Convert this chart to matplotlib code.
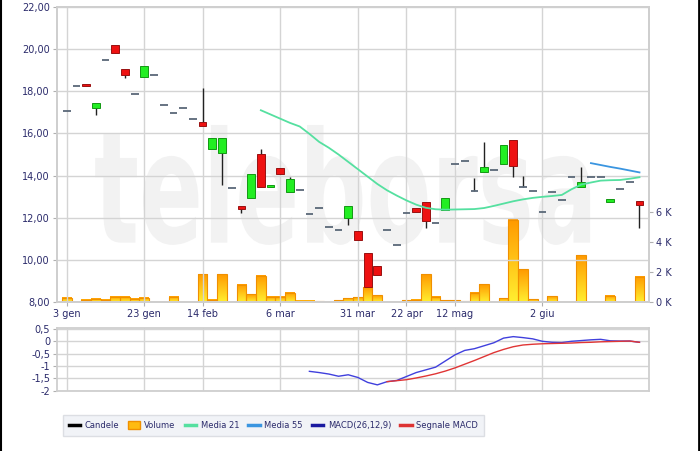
import numpy as np
import matplotlib
matplotlib.use('Agg')
import matplotlib.pyplot as plt
from matplotlib.colors import LinearSegmentedColormap
from matplotlib.lines import Line2D
from matplotlib.patches import Patch, PathPatch
from matplotlib.textpath import TextPath
from matplotlib.font_manager import FontProperties
from matplotlib.transforms import Affine2D

# dates shown on the axis (index of the trading session)
date_labels = ['3 gen', '23 gen', '14 feb', '6 mar', '31 mar', '22 apr', '12 mag', '2 giu']
date_pos = [0, 8, 14, 22, 30, 35, 40, 49]

# OHLC
opens = [17.08, 18.25, 18.35, 17.22, 19.49, 20.19, 19.08, 17.89, 18.68, 18.78,
         17.37, 16.97, 17.22, 16.70, 16.52, 15.27, 15.06, 13.41, 12.57, 12.94,
         15.00, 13.48, 14.35, 13.21, 13.33, 12.19, 12.46, 11.57, 11.41, 11.99,
         11.38, 10.32, 9.71, 11.43, 10.71, 12.24, 12.44, 12.76, 11.75, 12.38,
         14.56, 14.67, 13.29, 14.16, 14.27, 14.56, 15.70, 13.48, 13.29, 12.29,
         13.21, 12.86, 13.95, 13.46, 13.95, 13.95, 12.76, 13.38, 13.68, 12.81]
highs = [17.08, 18.25, 18.35, 17.46, 19.49, 20.19, 19.08, 17.89, 19.22, 18.78,
         17.37, 16.97, 17.22, 16.70, 18.16, 15.78, 15.79, 13.41, 12.57, 14.08,
         15.24, 13.57, 14.35, 13.95, 13.33, 12.19, 12.46, 11.57, 11.41, 12.57,
         11.38, 10.32, 9.71, 11.43, 10.71, 12.24, 12.44, 12.76, 11.75, 12.94,
         14.56, 14.67, 13.87, 15.59, 14.27, 15.43, 15.70, 14.00, 13.29, 12.29,
         13.21, 12.86, 13.95, 14.43, 13.95, 13.95, 12.89, 13.38, 13.68, 12.81]
lows = [17.08, 18.25, 18.24, 16.86, 19.49, 19.81, 18.65, 17.89, 18.68, 18.78,
        17.37, 16.97, 17.22, 16.70, 16.37, 15.27, 13.56, 13.41, 12.22, 12.94,
        13.48, 13.48, 14.08, 13.21, 13.33, 12.19, 12.46, 11.57, 11.41, 11.65,
        10.95, 8.73, 9.29, 11.43, 10.71, 12.24, 12.29, 11.51, 11.75, 12.38,
        14.56, 14.67, 13.29, 14.16, 14.27, 14.56, 13.95, 13.48, 13.29, 12.29,
        13.21, 12.86, 13.95, 13.46, 13.95, 13.95, 12.76, 13.38, 13.68, 11.51]
closes = [17.08, 18.25, 18.24, 17.46, 19.49, 19.81, 18.78, 17.89, 19.22, 18.78,
          17.37, 16.97, 17.22, 16.70, 16.37, 15.78, 15.79, 13.41, 12.43, 14.08,
          13.48, 13.57, 14.08, 13.84, 13.33, 12.19, 12.46, 11.57, 11.41, 12.57,
          10.95, 8.73, 9.29, 11.43, 10.71, 12.24, 12.29, 11.86, 11.75, 12.94,
          14.56, 14.67, 13.29, 14.40, 14.27, 15.43, 14.45, 13.48, 13.29, 12.29,
          13.21, 12.86, 13.95, 13.68, 13.95, 13.95, 12.89, 13.38, 13.68, 12.62]
# volume in thousands
volume = [0.29, 0.03, 0.16, 0.22, 0.16, 0.36, 0.36, 0.20, 0.29, 0.03,
          0.03, 0.36, 0.03, 0.03, 1.85, 0.16, 1.85, 0.03, 1.15, 0.53,
          1.73, 0.36, 0.36, 0.62, 0.09, 0.09, 0.05, 0.03, 0.10, 0.25,
          0.30, 0.98, 0.44, 0.03, 0.03, 0.10, 0.16, 1.85, 0.36, 0.10,
          0.10, 0.05, 0.60, 1.18, 0.03, 0.24, 5.45, 2.18, 0.17, 0.03,
          0.38, 0.03, 0.03, 3.09, 0.03, 0.03, 0.42, 0.03, 0.03, 1.67]

ma21_start = 20
ma21 = [17.10, 16.90, 16.70, 16.50, 16.33, 15.98, 15.60, 15.32, 15.00, 14.65,
        14.30, 13.95, 13.60, 13.30, 13.05, 12.82, 12.62, 12.47, 12.40, 12.38,
        12.39, 12.40, 12.41, 12.46, 12.56, 12.67, 12.78, 12.87, 12.94, 12.99,
        13.03, 13.08, 13.35, 13.57, 13.67, 13.76, 13.78, 13.79, 13.85, 13.92]
ma55_start = 54
ma55 = [14.59, 14.50, 14.41, 14.33, 14.24, 14.15]

macd_start = 25
macd = [-1.22, -1.27, -1.33, -1.42, -1.36, -1.47, -1.67, -1.77, -1.64, -1.59,
        -1.43, -1.27, -1.16, -1.05, -0.80, -0.55, -0.37, -0.30, -0.18, -0.06,
        0.13, 0.19, 0.15, 0.10, 0.00, -0.04, -0.05, 0.00, 0.03, 0.06,
        0.08, 0.02, 0.01, 0.01, -0.04]
signal_start = 33
signal = [-1.64, -1.60, -1.56, -1.49, -1.41, -1.32, -1.21, -1.08, -0.93, -0.78,
          -0.62, -0.46, -0.33, -0.22, -0.15, -0.12, -0.10, -0.09, -0.08, -0.07,
          -0.05, -0.04, -0.02, -0.01, 0.00, 0.01, -0.04]

txt = '#2b2b6b'
grid_c = '#d4d4d4'

fig = plt.figure(figsize=(7, 4.51), dpi=100)

# watermark behind everything
tp = TextPath((0, 0), 'teleborsa', size=1, prop=FontProperties(family='DejaVu Sans', weight='bold'))
ext = tp.get_extents()
sx = (0.843 - 0.136) / ext.width
sy = 0.266 / ext.height
wm = PathPatch(tp, facecolor='#f2f2f2', edgecolor='none', zorder=-5,
               transform=Affine2D().translate(-ext.x0, -ext.y0).scale(sx, sy).translate(0.136, 0.457) + fig.transFigure)
fig.patches.append(wm)

n = len(opens)
x = np.arange(n)

ax = fig.add_axes([0.0814, 0.3304, 0.846, 0.6541])
axv = ax.twinx()
ax.set_zorder(axv.get_zorder() + 1)
ax.patch.set_visible(False)
axv.patch.set_visible(False)

# volume bars with orange→yellow gradient
vmax = 19.6
cmap = LinearSegmentedColormap.from_list('vol', ['#ffee30', '#ff9a00'])
grad = np.linspace(0, 1, 64).reshape(-1, 1)
for i, v in enumerate(volume):
    axv.imshow(grad, extent=(i - 0.5, i + 0.5, 0, v), origin='lower', aspect='auto',
               cmap=cmap, zorder=1, interpolation='bilinear')
axv.bar(x, volume, width=1.0, fill=False, edgecolor='#f09000', linewidth=0.8, zorder=2)
axv.set_ylim(0, vmax)
axv.set_yticks([0, 2, 4, 6])
axv.set_yticklabels([f'{t} K' for t in [0, 2, 4, 6]])

# candles
o = np.array(opens); c = np.array(closes); h = np.array(highs); l = np.array(lows)
ax.vlines(x, l, h, color='#222222', linewidth=1, zorder=3)
up = c > o
down = c < o
flat = c == o
ax.bar(x[up], (c - o)[up], bottom=o[up], width=0.8, color='#22ee22', edgecolor='#139913', linewidth=0.7, zorder=4)
ax.bar(x[down], (o - c)[down], bottom=c[down], width=0.8, color='#ee1111', edgecolor='#991111', linewidth=0.7, zorder=4)
ax.hlines(c[flat], x[flat] - 0.4, x[flat] + 0.4, color='#5a6878', linewidth=1.3, zorder=4)

ax.plot(np.arange(ma21_start, ma21_start + len(ma21)), ma21, color='#55e0a0', linewidth=1.3, zorder=5)
ax.plot(np.arange(ma55_start, ma55_start + len(ma55)), ma55, color='#3a95e0', linewidth=1.3, zorder=5)

ax.set_xlim(-1, 60)
ax.set_ylim(8, 22)
ax.set_yticks(np.arange(8, 23, 2))
ax.set_yticklabels([f'{t:.2f}'.replace('.', ',') for t in np.arange(8, 23, 2)])
ax.set_xticks(date_pos)
ax.set_xticklabels(date_labels)
ax.grid(True, color=grid_c, linewidth=1)

for a in (ax, axv):
    for s in a.spines.values():
        s.set_color('#cfcfcf')
        s.set_linewidth(1.3)
    a.tick_params(colors='#b0b0b0', labelcolor=txt, labelsize=7, length=3, pad=2)

# MACD panel
axm = fig.add_axes([0.0814, 0.133, 0.846, 0.1397])
axm.patch.set_visible(False)
axm.plot(np.arange(macd_start, macd_start + len(macd)), macd, color='#4040dd', linewidth=1)
axm.plot(np.arange(signal_start, signal_start + len(signal)), signal, color='#e03535', linewidth=1)
axm.set_xlim(-1, 60)
axm.set_ylim(-2.02, 0.54)
mt = [0.5, 0, -0.5, -1, -1.5, -2]
axm.set_yticks(mt)
axm.set_yticklabels([f'{t:g}'.replace('.', ',') for t in mt])
axm.set_xticks(date_pos)
axm.set_xticklabels([])
axm.grid(True, color=grid_c, linewidth=1)
axm.tick_params(colors='#b0b0b0', labelcolor=txt, labelsize=7, length=3, pad=2)
axm.tick_params(axis='x', length=0)
for s in axm.spines.values():
    s.set_color('#cfcfcf')
    s.set_linewidth(1.3)

# legend
handles = [Line2D([], [], color='black', lw=2.5),
           Patch(facecolor='#ffbb10', edgecolor='#f09000'),
           Line2D([], [], color='#55e0a0', lw=2.5),
           Line2D([], [], color='#3a95e0', lw=2.5),
           Line2D([], [], color='#1a1aa0', lw=2.5),
           Line2D([], [], color='#dd3333', lw=2.5)]
labels = ['Candele', 'Volume', 'Media 21', 'Media 55', 'MACD(26,12,9)', 'Segnale MACD']
leg = fig.legend(handles, labels, loc='center left', bbox_to_anchor=(0.084, 0.0565), ncol=6,
                 fontsize=6, frameon=True, fancybox=False, handlelength=1.4, handleheight=1.0,
                 handletextpad=0.5, columnspacing=1.1, borderpad=0.7)
leg.get_frame().set_facecolor('#eef1f5')
leg.get_frame().set_edgecolor('#d5d8de')
for t in leg.get_texts():
    t.set_color(txt)

# thin dark edges at the sides of the image
fig.add_artist(Line2D([0.001, 0.001], [0, 1], color='black', lw=1.5, transform=fig.transFigure))
fig.add_artist(Line2D([0.998, 0.998], [0, 1], color='black', lw=2, transform=fig.transFigure))

fig.savefig('out.png', dpi=100)
